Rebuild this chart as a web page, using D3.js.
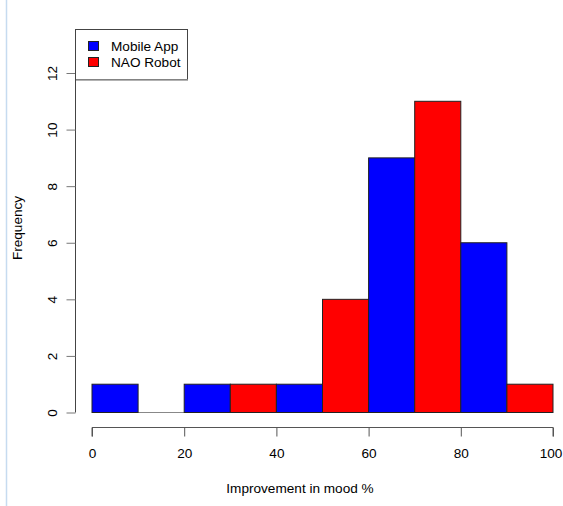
<!DOCTYPE html>
<html><head><meta charset="utf-8">
<script src="https://cdn.jsdelivr.net/npm/d3@7"></script>
<style>body{margin:0;background:#fff}svg{display:block;font-family:"Liberation Sans",Arial,sans-serif}</style>
</head><body>
<script>
const binStarts = [0,10,20,30,40,50,60,70,80,90];
const series = ["Mobile App","NAO Robot"];
const colors = ["#0000ff","#ff0000"];
// series index of each bin (null = empty bin)
const binSeries = [0,null,0,1,0,1,0,1,0,1];
const frequency = [1,0,1,1,1,4,9,11,6,1];
const xTicks = [0,20,40,60,80,100];
const yTicks = [0,2,4,6,8,10,12];

const W=563,H=506,FS=13.6;
const svg=d3.select("body").append("svg").attr("width",W).attr("height",H);
svg.append("line").attr("x1",6.5).attr("x2",6.5).attr("y1",0).attr("y2",H).attr("stroke","#c6dbf0").attr("stroke-width",1.5);

const x=d3.scaleLinear().domain([0,100]).range([92,553]);
const y=d3.scaleLinear().domain([0,12]).range([412.5,73]);

svg.append("line").attr("x1",x(0)).attr("x2",x(100)).attr("y1",y(0)).attr("y2",y(0)).attr("stroke","#888").attr("stroke-width",1);

svg.selectAll("rect.bar").data(binStarts.map((b,i)=>({b,f:frequency[i],s:binSeries[i]})).filter(d=>d.s!==null))
 .enter().append("rect").attr("class","bar")
 .attr("x",d=>x(d.b)).attr("width",d=>x(d.b+10)-x(d.b))
 .attr("y",d=>y(d.f)).attr("height",d=>y(0)-y(d.f))
 .attr("fill",d=>colors[d.s]).attr("stroke","#222").attr("stroke-width",1);

const ya=svg.append("g").attr("transform","translate(75.5,0)")
 .call(d3.axisLeft(y).tickValues(yTicks).tickSize(9).tickFormat(d3.format("d")));
ya.attr("font-size",FS).attr("font-family",null);
ya.select(".domain").attr("stroke","#444").attr("d",`M0,${y(0)}V${y(12)}`);
ya.selectAll(".tick line").attr("stroke","#777");
ya.selectAll(".tick text").attr("fill","#000").attr("text-anchor","middle")
 .attr("x",0).attr("y",0).attr("dy",null).attr("transform","translate(-19,0) rotate(-90)");

const xa=svg.append("g").attr("transform","translate(0,427.5)")
 .call(d3.axisBottom(x).tickValues(xTicks).tickSize(9).tickPadding(12).tickFormat(d3.format("d")));
xa.attr("font-size",FS).attr("font-family",null);
xa.select(".domain").attr("stroke","#555").attr("d",`M${x(0)},9V0H${x(100)}V9`);
xa.selectAll(".tick line").attr("stroke","#555");
xa.selectAll(".tick text").attr("fill","#000").attr("dx",d=>d===100?-2.5:0);

svg.append("text").attr("x",300).attr("y",493).attr("text-anchor","middle").attr("font-size",FS).attr("fill","#000").text("Improvement in mood %");
svg.append("text").attr("transform","translate(22,228) rotate(-90)").attr("text-anchor","middle").attr("font-size",FS).attr("fill","#000").text("Frequency");

const lg=svg.append("g");
lg.append("rect").attr("x",75.5).attr("y",29.5).attr("width",112).attr("height",50).attr("fill","#fff").attr("stroke","#444");
lg.append("line").attr("x1",76).attr("x2",188).attr("y1",80).attr("y2",80).attr("stroke","#999").attr("stroke-width",1.5);
series.forEach((s,i)=>{
  lg.append("rect").attr("x",88.5).attr("y",41.5+i*16).attr("width",10).attr("height",9).attr("fill",colors[i]).attr("stroke","#222");
  lg.append("text").attr("x",111).attr("y",51+i*16).attr("font-size",FS).attr("fill","#000").text(s);
});
</script>
</body></html>
